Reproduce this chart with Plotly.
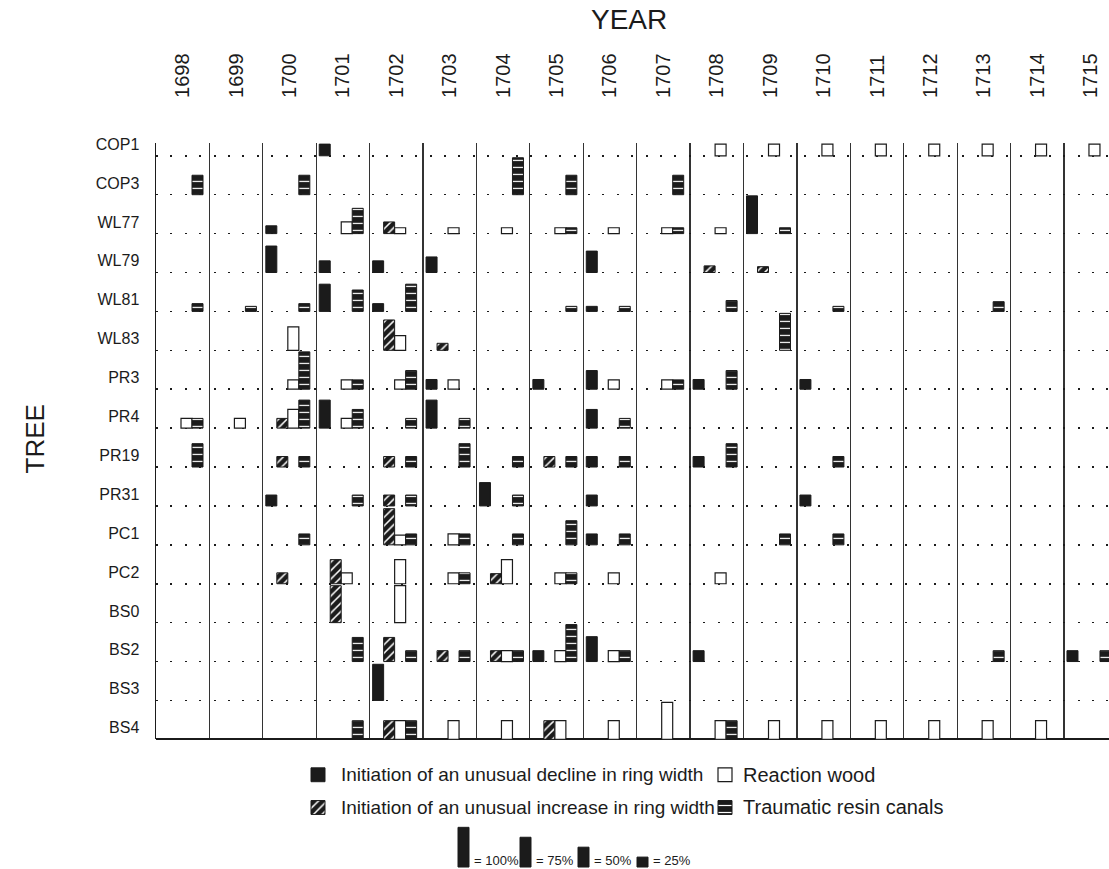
import plotly.graph_objects as go

W, H = 1109, 869

years = list(range(1698, 1716))
trees = ["COP1", "COP3", "WL77", "WL79", "WL81", "WL83", "PR3", "PR4",
         "PR19", "PR31", "PC1", "PC2", "BS0", "BS2", "BS3", "BS4"]

# (tree, year, percent)
decline = [
    ("COP1", 1701, 30),
    ("WL77", 1700, 20), ("WL77", 1709, 97),
    ("WL79", 1700, 68), ("WL79", 1701, 30), ("WL79", 1702, 30), ("WL79", 1703, 40), ("WL79", 1706, 55),
    ("WL81", 1701, 70), ("WL81", 1702, 20), ("WL81", 1706, 13),
    ("PR3", 1703, 25), ("PR3", 1705, 25), ("PR3", 1706, 48), ("PR3", 1708, 25), ("PR3", 1710, 25),
    ("PR4", 1701, 72), ("PR4", 1703, 72), ("PR4", 1706, 48),
    ("PR19", 1706, 27), ("PR19", 1708, 27),
    ("PR31", 1700, 28), ("PR31", 1704, 60), ("PR31", 1706, 28), ("PR31", 1710, 28),
    ("PC1", 1706, 28),
    ("BS2", 1705, 28), ("BS2", 1706, 64), ("BS2", 1708, 28), ("BS2", 1715, 28),
    ("BS3", 1702, 93),
]
increase = [
    ("WL77", 1702, 30),
    ("WL79", 1708, 17), ("WL79", 1709, 15),
    ("WL83", 1702, 78), ("WL83", 1703, 18),
    ("PR4", 1700, 25),
    ("PR19", 1700, 27), ("PR19", 1702, 27), ("PR19", 1705, 27),
    ("PR31", 1702, 28),
    ("PC1", 1702, 93),
    ("PC2", 1700, 28), ("PC2", 1701, 62), ("PC2", 1704, 26),
    ("BS0", 1701, 95),
    ("BS2", 1702, 62), ("BS2", 1703, 28), ("BS2", 1704, 28),
    ("BS4", 1702, 48), ("BS4", 1705, 48),
]
reaction = [
    ("COP1", 1708, 30), ("COP1", 1709, 30), ("COP1", 1710, 30), ("COP1", 1711, 30),
    ("COP1", 1712, 30), ("COP1", 1713, 30), ("COP1", 1714, 30), ("COP1", 1715, 30),
    ("WL77", 1701, 30), ("WL77", 1702, 15), ("WL77", 1703, 15), ("WL77", 1704, 15),
    ("WL77", 1705, 15), ("WL77", 1706, 15), ("WL77", 1707, 15), ("WL77", 1708, 15),
    ("WL83", 1700, 60), ("WL83", 1702, 38),
    ("PR3", 1700, 24), ("PR3", 1701, 24), ("PR3", 1702, 24), ("PR3", 1703, 24),
    ("PR3", 1706, 24), ("PR3", 1707, 24),
    ("PR4", 1698, 25), ("PR4", 1699, 25), ("PR4", 1700, 48), ("PR4", 1701, 25),
    ("PC1", 1702, 25), ("PC1", 1703, 28),
    ("PC2", 1701, 28), ("PC2", 1702, 62), ("PC2", 1703, 28), ("PC2", 1704, 62),
    ("PC2", 1705, 28), ("PC2", 1706, 28), ("PC2", 1708, 28),
    ("BS0", 1702, 95),
    ("BS2", 1704, 28), ("BS2", 1705, 28), ("BS2", 1706, 28),
    ("BS4", 1702, 48), ("BS4", 1703, 48), ("BS4", 1704, 48), ("BS4", 1705, 48),
    ("BS4", 1706, 48), ("BS4", 1707, 95), ("BS4", 1708, 48), ("BS4", 1709, 48),
    ("BS4", 1710, 48), ("BS4", 1711, 48), ("BS4", 1712, 48), ("BS4", 1713, 48),
    ("BS4", 1714, 48),
]
resin = [
    ("COP3", 1698, 50), ("COP3", 1700, 50), ("COP3", 1704, 95), ("COP3", 1705, 50), ("COP3", 1707, 50),
    ("WL77", 1701, 65), ("WL77", 1705, 15), ("WL77", 1707, 15), ("WL77", 1709, 15),
    ("WL81", 1698, 20), ("WL81", 1699, 13), ("WL81", 1700, 20), ("WL81", 1701, 55),
    ("WL81", 1702, 70), ("WL81", 1705, 13), ("WL81", 1706, 13), ("WL81", 1708, 28),
    ("WL81", 1710, 13), ("WL81", 1713, 25),
    ("WL83", 1709, 95),
    ("PR3", 1700, 96), ("PR3", 1701, 24), ("PR3", 1702, 48), ("PR3", 1707, 24), ("PR3", 1708, 48),
    ("PR4", 1698, 25), ("PR4", 1700, 72), ("PR4", 1701, 48), ("PR4", 1702, 25),
    ("PR4", 1703, 25), ("PR4", 1706, 25),
    ("PR19", 1698, 60), ("PR19", 1700, 27), ("PR19", 1702, 27), ("PR19", 1703, 60),
    ("PR19", 1704, 27), ("PR19", 1705, 27), ("PR19", 1706, 27), ("PR19", 1708, 60), ("PR19", 1710, 27),
    ("PR31", 1701, 28), ("PR31", 1702, 28), ("PR31", 1704, 28),
    ("PC1", 1700, 28), ("PC1", 1702, 28), ("PC1", 1703, 28), ("PC1", 1704, 28),
    ("PC1", 1705, 62), ("PC1", 1706, 28), ("PC1", 1709, 28), ("PC1", 1710, 28),
    ("PC2", 1703, 28), ("PC2", 1705, 28),
    ("BS2", 1701, 62), ("BS2", 1702, 28), ("BS2", 1703, 28), ("BS2", 1704, 28),
    ("BS2", 1705, 95), ("BS2", 1706, 28), ("BS2", 1713, 28), ("BS2", 1715, 28),
    ("BS4", 1701, 48), ("BS4", 1702, 48), ("BS4", 1708, 48),
]

legend_labels = ["Initiation of an unusual decline in ring width",
                 "Initiation of an unusual increase in ring width",
                 "Reaction wood",
                 "Traumatic resin canals"]
scale_pcts = [100, 75, 50, 25]

# ---------------- styling / geometry ----------------
INK = "#1b1b1b"
FONT = "Liberation Sans, Arial, Helvetica, sans-serif"
PL, PRt, PT, PB = 156, 1109, 137, 738.3     # plot box in pixels
COL = 53.41                                  # px per year column
ROW = 39.22                                  # px per tree row
n_rows = len(trees)
x_max = (PRt - PL) / COL
y_max = (PB - PT) / ROW
SLOT_W = 11 / COL


def slot_x(year, slot):
    return (year - years[0]) + (3 + 11 * slot + 5.5) / COL


def base_of(tree):
    return n_rows - 1 - trees.index(tree)


markers = {
    "decline": dict(color=INK, line=dict(color=INK, width=1)),
    "increase": dict(color=INK, line=dict(color=INK, width=1),
                     pattern=dict(shape="/", fgcolor="white", bgcolor=INK,
                                  size=6, solidity=0.25, fillmode="replace")),
    "reaction": dict(color="white", line=dict(color=INK, width=1.2)),
    "resin": dict(color=INK, line=dict(color=INK, width=1),
                  pattern=dict(shape="-", fgcolor="white", bgcolor=INK,
                               size=7, solidity=0.17, fillmode="replace")),
}

fig = go.Figure()
for data, slot, key in [(decline, 0, "decline"), (increase, 1, "increase"),
                        (reaction, 2, "reaction"), (resin, 3, "resin")]:
    fig.add_trace(go.Bar(
        x=[slot_x(y, slot) for t, y, p in data],
        y=[p / 100 for t, y, p in data],
        base=[base_of(t) for t, y, p in data],
        width=SLOT_W, marker=markers[key], xaxis="x", yaxis="y",
        showlegend=False, hoverinfo="skip"))

# ---------------- legend (own axes in pixel units) ----------------
LEG_TOP = 745
def ly(px):
    return H - px

sw = [(318, 774, "decline", 339, 19), (318, 807, "increase", 339, 19),
      (725, 774, "reaction", 741, 20), (725, 807, "resin", 741, 20)]
for (cx, cy, key, tx, fs), lab in zip(sw, legend_labels):
    fig.add_trace(go.Bar(x=[cx], y=[14], base=[ly(cy + 7)], width=14,
                         marker=markers[key], xaxis="x2", yaxis="y2",
                         showlegend=False, hoverinfo="skip"))

scale_x = [463.5, 525.5, 583.5, 642.5]
fig.add_trace(go.Bar(x=scale_x, y=[p * 0.4 for p in scale_pcts],
                     base=[ly(867)] * len(scale_pcts), width=11,
                     marker=markers["decline"], xaxis="x2", yaxis="y2",
                     showlegend=False, hoverinfo="skip"))

annots = []
for (cx, cy, key, tx, fs), lab in zip(sw, legend_labels):
    annots.append(dict(x=tx, y=ly(cy), xref="x2", yref="y2", text=lab,
                       showarrow=False, xanchor="left", yanchor="middle",
                       font=dict(size=fs, family=FONT, color=INK)))
for sx, p in zip(scale_x, scale_pcts):
    annots.append(dict(x=sx + 8, y=ly(860), xref="x2", yref="y2", text=f"= {p}%",
                       showarrow=False, xanchor="left", yanchor="middle",
                       font=dict(size=13, family=FONT, color=INK)))

annots.append(dict(x=629 / W, y=1 - 13 / H, xref="paper", yref="paper", text="YEAR",
                   showarrow=False, xanchor="center", yanchor="middle",
                   font=dict(size=28, family=FONT, color=INK)))
annots.append(dict(x=35 / W, y=1 - 436 / H, xref="paper", yref="paper", text="TREE",
                   showarrow=False, xanchor="center", yanchor="middle", textangle=-90,
                   font=dict(size=26, family=FONT, color=INK)))

fig.update_layout(
    width=W, height=H, margin=dict(l=0, r=0, t=0, b=0),
    paper_bgcolor="white", plot_bgcolor="rgba(0,0,0,0)",
    barmode="overlay", showlegend=False,
    font=dict(family=FONT, color=INK),
    annotations=annots,
    xaxis=dict(domain=[PL / W, 1], range=[0, x_max], side="top",
               tickmode="array", tickvals=[i + 0.5 for i in range(len(years))],
               ticktext=[str(y) for y in years], tickangle=-90, ticks="",
               ticklabelstandoff=44,
               tickfont=dict(size=20, family=FONT, color=INK),
               showgrid=False, zeroline=False, showline=False,
               minor=dict(tickmode="array", tickvals=list(range(1, len(years))),
                          showgrid=True, gridcolor="#333333", gridwidth=1.2, ticks="")),
    yaxis=dict(domain=[(H - PB) / H, (H - PT) / H], range=[0, y_max],
               tickmode="array", tickvals=[base_of(t) + 0.3 for t in trees],
               ticktext=trees, ticks="", ticklabelstandoff=12,
               tickfont=dict(size=16, family=FONT, color=INK),
               showgrid=False, showline=True, linecolor=INK, linewidth=1.5,
               zeroline=True, zerolinecolor=INK, zerolinewidth=2,
               minor=dict(tickmode="array", tickvals=list(range(1, n_rows)),
                          showgrid=True, gridcolor=INK, gridwidth=1.6,
                          griddash="2px,12.4px", ticks="")),
    xaxis2=dict(domain=[0, 1], range=[0, W], visible=False, fixedrange=True),
    yaxis2=dict(domain=[0, (H - LEG_TOP) / H], range=[0, H - LEG_TOP],
                visible=False, fixedrange=True, anchor="x2"),
)
fig.update_layout(xaxis2_anchor="y2")

fig.write_html("out.html", config={"displayModeBar": False, "staticPlot": True},
               post_script="document.body.style.margin='0px';"
                           "document.documentElement.style.overflow='hidden';")
